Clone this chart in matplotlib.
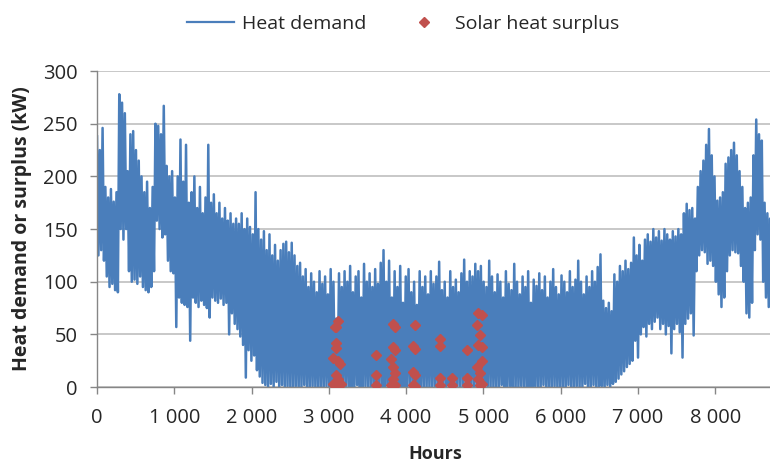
import numpy as np
import matplotlib.pyplot as plt

# Heat demand: one peak and one trough every 36 hours
# (peak at hour 36k, trough 18 h later), kW
demand_high = [
    238, 225, 246, 190, 180, 188, 176, 185, 278, 270,
    260, 205, 240, 243, 225, 215, 200, 185, 195, 170,
    190, 250, 248, 240, 267, 210, 200, 205, 180, 200,
    235, 195, 230, 175, 185, 200, 170, 190, 165, 180,
    230, 175, 183, 165, 175, 160, 170, 158, 165, 155,
    160, 155, 165, 150, 160, 152, 145, 185, 150, 140,
    148, 130, 145, 125, 135, 120, 130, 136, 138, 128,
    137, 125, 115, 118, 105, 112, 95, 108, 100, 90,
    110, 98, 105, 88, 112, 100, 65, 108, 95, 110,
    100, 115, 90, 105, 110, 85, 117, 100, 108, 95,
    112, 98, 118, 130, 100, 120, 85, 110, 95, 115,
    80, 105, 112, 90, 100, 78, 110, 95, 105, 88,
    110, 98, 105, 119, 92, 100, 85, 110, 95, 102,
    90, 108, 121, 100, 110, 105, 117, 110, 115, 100,
    95, 120, 105, 90, 107, 100, 85, 110, 98, 92,
    117, 100, 88, 105, 95, 110, 80, 102, 96, 108,
    92, 105, 85, 100, 112, 95, 88, 106, 100, 90,
    110, 95, 102, 120, 100, 88, 105, 95, 110, 100,
    114, 126, 82, 75, 80, 72, 107, 100, 115, 110,
    120, 112, 118, 142, 125, 135, 120, 140, 145, 138,
    150, 142, 148, 139, 150, 145, 140, 148, 143, 150,
    145, 165, 174, 168, 170, 160, 190, 205, 215, 230,
    245, 220, 200, 177, 180, 185, 212, 218, 225, 232,
    220, 205, 190, 170, 175, 180, 220, 254, 240, 234,
    175, 165, 160,
]
demand_low = [
    125, 130, 120, 105, 95, 98, 92, 90, 150, 140,
    150, 110, 100, 102, 98, 105, 95, 92, 90, 95,
    110, 158, 150, 142, 145, 120, 110, 108, 57, 85,
    80, 78, 76, 44, 85, 80, 76, 82, 78, 75,
    66, 85, 82, 80, 84, 78, 80, 50, 70, 60,
    55, 48, 40, 9, 35, 25, 30, 16, 10, 4,
    2, 0, 3, 0, 5, 0, 2, 0, 1, 0,
    0, 1, 0, 0, 2, 0, 0, 1, 0, 0,
    0, 0, 1, 0, 0, 2, 0, 0, 0, 1,
    0, 0, 0, 2, 0, 0, 1, 0, 0, 0,
    1, 0, 0, 0, 2, 0, 0, 0, 1, 0,
    0, 0, 2, 0, 0, 1, 0, 0, 0, 0,
    0, 1, 0, 0, 0, 0, 2, 0, 0, 1,
    0, 0, 0, 1, 0, 0, 0, 2, 0, 0,
    1, 0, 0, 0, 0, 2, 0, 0, 1, 0,
    0, 0, 1, 0, 0, 0, 0, 1, 0, 0,
    2, 0, 0, 0, 1, 0, 0, 0, 0, 2,
    0, 0, 1, 0, 0, 3, 0, 0, 2, 0,
    0, 1, 0, 2, 0, 3, 5, 8, 12, 15,
    19, 22, 25, 44, 28, 50, 57, 48, 60, 55,
    62, 66, 55, 60, 50, 58, 32, 55, 60, 52,
    28, 60, 65, 70, 49, 110, 125, 130, 128, 117,
    120, 115, 100, 88, 76, 85, 110, 125, 130, 128,
    127, 115, 100, 70, 66, 80, 130, 145, 140, 100,
    85, 76, 78,
]
step = 18  # hours between samples

# solar heat surplus points (hour, kW)
solar_hours = [
    3095, 3117, 3074, 3087, 3087, 3052, 3117, 3139, 3087, 3117, 3052, 3117, 3160,
    3606, 3606, 3606,
    3831, 3853, 3831, 3853, 3810, 3831, 3853, 3831, 3853, 3810,
    4113, 4091, 4113, 4091, 4113, 4091, 4113,
    4438, 4438, 4438, 4438,
    4589, 4589,
    4784, 4784, 4784,
    4936, 4978, 4922, 4957, 4936, 4978, 4978, 4914, 4957, 4936, 4957, 4978,
]
solar_kw = [
    57, 63, 57, 42, 37, 28, 25, 22, 11, 8, 3, 2, 3,
    30, 11, 2,
    60, 57, 38, 35, 27, 19, 13, 8, 2, 2,
    59, 39, 36, 14, 11, 2, 1,
    46, 39, 9, 2,
    9, 2,
    35, 9, 2,
    70, 68, 59, 49, 40, 38, 25, 19, 13, 8, 2, 3,
]

x_ticks = [0, 1000, 2000, 3000, 4000, 5000, 6000, 7000, 8000]
x_labels = ['0', '1 000', '2 000', '3 000', '4 000', '5 000', '6 000', '7 000', '8 000']
y_ticks = [0, 50, 100, 150, 200, 250, 300]

# interleave peaks and troughs into one series
demand = np.empty(2 * len(demand_high))
demand[0::2] = demand_high
demand[1::2] = demand_low
hours = np.arange(len(demand)) * step

plt.rcParams['font.family'] = ['Open Sans', 'DejaVu Sans']
blue = '#4a7ebb'
text_col = '#262626'
grid_col = '#bfbfbf'

fig = plt.figure(figsize=(7.7, 4.63), dpi=100)
ax = fig.add_axes([0.126, 0.164, 0.879, 0.6825])

ax.plot(hours, demand, color=blue, lw=1.8, label='Heat demand', zorder=2)
ax.plot(solar_hours, solar_kw, 'D', color='#c0504d', ms=5.5, mec='#c0504d',
        label='Solar heat surplus', zorder=3)

ax.set_xlim(0, 8760)
ax.set_ylim(0, 300)
ax.set_xticks(x_ticks)
ax.set_xticklabels(x_labels)
ax.set_yticks(y_ticks)
ax.grid(axis='y', color=grid_col, lw=1.2, zorder=0)
ax.set_axisbelow(True)

for s in ['top', 'right']:
    ax.spines[s].set_visible(False)
for s in ['left', 'bottom']:
    ax.spines[s].set_color('#868686')
    ax.spines[s].set_linewidth(1.0)
ax.tick_params(axis='both', colors='#868686', labelcolor=text_col, labelsize=14.5,
               length=5, width=1.0)
ax.tick_params(axis='x', pad=10)
ax.tick_params(axis='y', pad=9)

ax.set_xlabel('Hours', fontsize=13, fontweight='bold', color=text_col, labelpad=12)
ax.set_ylabel('Heat demand or surplus (kW)', fontsize=14, fontweight='bold',
              color=text_col, labelpad=8)

leg = fig.legend(loc='upper center', bbox_to_anchor=(0.524, 1.005), ncol=2, frameon=False,
                 fontsize=14, handlelength=2.4, handletextpad=0.4, columnspacing=1.8,
                 labelcolor=text_col)
leg.legend_handles[0].set_linewidth(1.6)

fig.savefig('out.png', dpi=100)
